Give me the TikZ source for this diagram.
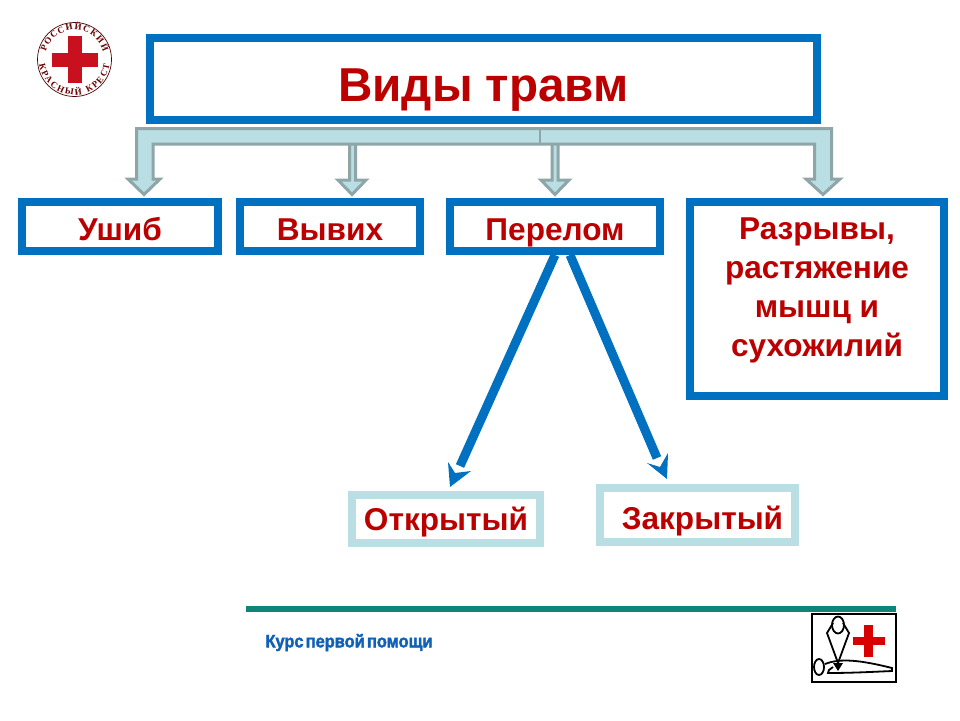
\documentclass[tikz,border=0pt]{standalone}
\usepackage{fontspec}
\setmainfont{Liberation Sans}
\newfontfamily\logofont{Liberation Serif}
\newfontfamily\footfont{Liberation Sans}[BoldFont={Liberation Sans Bold},BoldFeatures={FakeStretch=0.91,FakeBold=2},WordSpace=0.5]
\usetikzlibrary{decorations.text,calc}
\definecolor{bluebox}{HTML}{0070C0}
\definecolor{paleteal}{HTML}{B9DEE3}
\definecolor{greyline}{HTML}{8FA6A8}
\definecolor{redtext}{HTML}{BC0000}
\definecolor{teal2}{HTML}{0F8478}
\definecolor{footblue}{HTML}{1060B8}
\definecolor{crossred}{HTML}{C8101E}
\tikzset{
 x=1pt,y=-1pt,
 bluebox/.style={draw=bluebox,line width=8pt,fill=white,inner sep=0pt,align=center,text=redtext,font=\fontsize{31.6}{39}\selectfont\bfseries},
 palebox/.style={bluebox,draw=paleteal},
 fatarrow/.style={draw=greyline,fill=paleteal,line width=3pt,line join=miter},
 shaft/.style={draw=bluebox,line width=9pt},
 tiphead/.style={fill=bluebox},
 icon/.style={draw=black,line width=1.8pt},
}
\begin{document}
\begin{tikzpicture}
\useasboundingbox (0,0) rectangle (960,720);
\fill[white] (0,0) rectangle (960,720);
% logo
\coordinate (lc) at (74.5,59.5);
\draw[draw=black!70!red,line width=0.7pt] (lc) circle[radius=37];
\fill[crossred] (68,36) rectangle (82,83);
\fill[crossred] (52,53) rectangle (98,67);
\path[decorate,decoration={text along path,text align=fit to path,text={|\logofont\fontsize{9}{9}\selectfont\bfseries\color{black!60!red}|РОССИЙСКИЙ}}]
  ($(lc)+(-165:29.5)$) arc[start angle=-165,end angle=-15,radius=29.5];
\path[decorate,decoration={text along path,text align=fit to path,text={|\logofont\fontsize{9}{9}\selectfont\bfseries\color{black!60!red}|КРАСНЫЙ КРЕСТ}}]
  ($(lc)+(172:35.5)$) arc[start angle=172,end angle=8,radius=35.5];
% boxes
\node[bluebox,minimum width=667pt,minimum height=82pt,font=\fontsize{47.6}{50}\selectfont\bfseries,text height=44pt,text depth=0pt] (title) at (483.5,79) {Виды травм};
\node[bluebox,minimum width=196pt,minimum height=49pt,text height=27pt,text depth=0pt] (ushib) at (120,226.5) {Ушиб};
\node[bluebox,minimum width=180pt,minimum height=49pt,text height=27pt,text depth=0pt] (vyvih) at (330,226.5) {Вывих};
\node[bluebox,minimum width=210pt,minimum height=49pt,text height=27pt,text depth=0pt] (perelom) at (555,226.5) {Перелом};
\node[bluebox,minimum width=254pt,minimum height=194pt,text depth=24pt] (razryv) at (817,299) {Разрывы,\\растяжение\\мышц и\\сухожилий};
\node[palebox,minimum width=188pt,minimum height=48pt,text height=23.5pt,text depth=0pt] (otkr) at (446,519) {Открытый};
\node[palebox,minimum width=195pt,minimum height=54pt,text height=28pt,text depth=0pt] (zakr) at (697.5,515) {\hspace*{10pt}Закрытый};
% block arrows
\path[fatarrow] (352.5,143) -- (355.5,143) -- (355.5,180) -- (366,180) -- (352,194.5) -- (338,180) -- (349.5,180) -- (349.5,143) -- cycle;
\path[fatarrow] (552,143) -- (558,143) -- (558,180) -- (569,180) -- (555,194.5) -- (541,180) -- (552,180) -- cycle;
\path[fatarrow] (136.5,128.5) -- (831.5,128.5) -- (831.5,179) -- (840,179) -- (823,194.5) -- (806,179) -- (814.5,179) -- (814.5,144) -- (153,144) -- (153,179) -- (160,179) -- (144,194.5) -- (128,179) -- (136.5,179) -- cycle;
\draw[greyline,line width=2.5pt] (540,128.5) -- (540,144);
% connectors
\coordinate (fromL) at (555,255);
\coordinate (toL) at (460,466);
\coordinate (fromR) at (570,255);
\coordinate (toR) at (657,458);
\draw[shaft] (fromL) -- (toL);
\draw[shaft] (fromR) -- (toR);
\fill[tiphead] (450,487) -- (448,462) -- (455,473) -- (471,471) -- cycle;
\fill[tiphead] (667,479) -- (668,453) -- (660,467) -- (647,463) -- cycle;
% footer
\fill[teal2] (246,606) rectangle (896,612);
\node[anchor=center,text=footblue,font=\footfont\fontsize{18}{18}\selectfont\bfseries] (foot) at (349,642.5) {Курс первой помощи};
% icon
\draw[draw=black,line width=2.5pt,fill=white] (812,614) rectangle (896,682);
\fill[red!85!black] (864,625) rectangle (873,657);
\fill[red!85!black] (853,637) rectangle (885,645);
\draw[icon] (838,625) ellipse[x radius=6,y radius=8.5];
\draw[icon] (833,623) -- (827,633) -- (838,663) -- (849,633) -- (843,623);
\fill[black] (833,663) -- (843,663) -- (838,671) -- cycle;
\draw[icon] (819,667) ellipse[x radius=5,y radius=8];
\draw[icon] (825,664) .. controls (840,658) and (860,660) .. (892,668) -- (892,671) .. controls (870,672) and (850,673) .. (828,673) -- (829,670) -- (833,667);
\end{tikzpicture}
\end{document}
